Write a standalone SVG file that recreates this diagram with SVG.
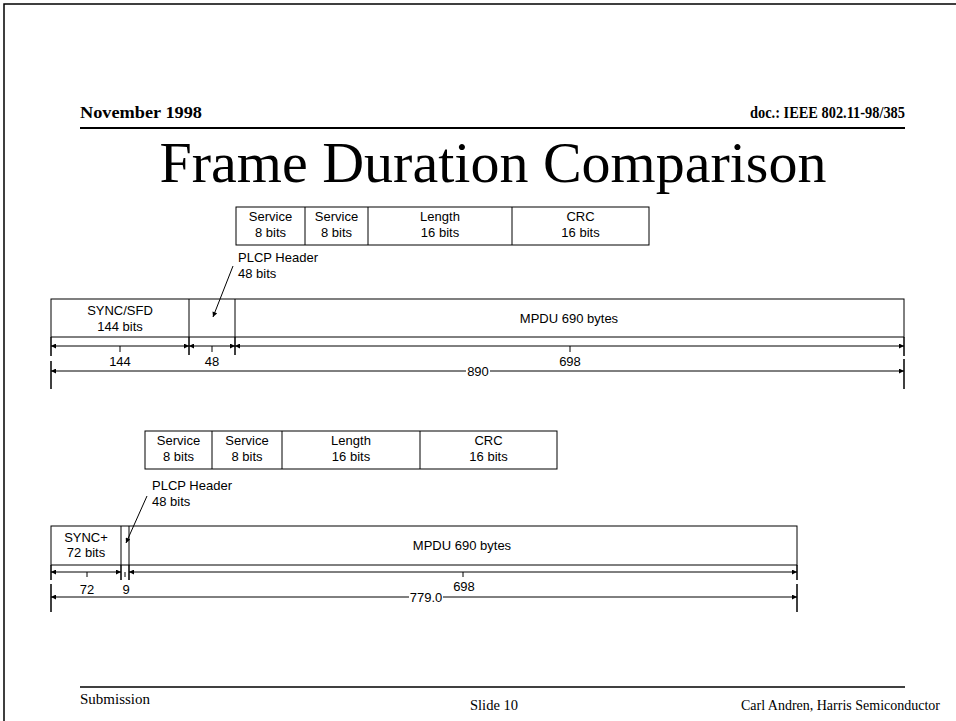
<svg xmlns="http://www.w3.org/2000/svg" width="956" height="721" viewBox="0 0 956 721">
<style>
.hdr{font-family:"Liberation Serif","Times New Roman",serif;font-weight:bold;font-size:16px;fill:#000}
.ttl{font-family:"Liberation Serif","Times New Roman",serif;font-size:58px;fill:#000}
.ftr{font-family:"Liberation Serif","Times New Roman",serif;font-size:14px;fill:#000}
.t{font-family:"Liberation Sans",Arial,sans-serif;font-size:13px;fill:#000}
.box{fill:#fff;stroke:#000;stroke-width:1}
.ln{stroke:#000;stroke-width:1;fill:none}
.ext{stroke:#000;stroke-width:1.5;fill:none}
.dim{stroke:#000;stroke-width:1;fill:none;marker-start:url(#ah);marker-end:url(#ah)}
</style>
<defs>
<marker id="ah" viewBox="0 0 10 10" refX="10" refY="5" markerWidth="6" markerHeight="5" markerUnits="userSpaceOnUse" orient="auto-start-reverse">
<path d="M0,0 L10,5 L0,10 z" fill="#000"/>
</marker>
<marker id="ap" viewBox="0 0 10 10" refX="10" refY="5" markerWidth="7" markerHeight="5" markerUnits="userSpaceOnUse" orient="auto">
<path d="M0,0 L10,5 L0,10 z" fill="#000"/>
</marker>
</defs>
<rect x="0" y="0" width="956" height="721" fill="#fff"/>
<g id="border">
<path d="M4,721 V4 H956" class="ext" stroke-width="2"/>
</g>
<g id="header">
<text class="hdr" x="80" y="118" textLength="122" lengthAdjust="spacingAndGlyphs">November 1998</text>
<text class="hdr" x="750" y="118" textLength="155" lengthAdjust="spacingAndGlyphs">doc.: IEEE 802.11-98/385</text>
<line x1="80" y1="128" x2="905" y2="128" stroke="#000" stroke-width="2"/>
</g>
<g id="title">
<text class="ttl" x="493" y="182" text-anchor="middle">Frame Duration Comparison</text>
</g>

<!-- Diagram 1 -->
<g id="fields1">
<rect class="box" x="236" y="207" width="413" height="38"/>
<line class="ln" x1="305" y1="207" x2="305" y2="245"/>
<line class="ln" x1="368" y1="207" x2="368" y2="245"/>
<line class="ln" x1="512" y1="207" x2="512" y2="245"/>
<text class="t" text-anchor="middle" x="270.5" y="221">Service</text>
<text class="t" text-anchor="middle" x="270.5" y="237">8 bits</text>
<text class="t" text-anchor="middle" x="336.5" y="221">Service</text>
<text class="t" text-anchor="middle" x="336.5" y="237">8 bits</text>
<text class="t" text-anchor="middle" x="440" y="221">Length</text>
<text class="t" text-anchor="middle" x="440" y="237">16 bits</text>
<text class="t" text-anchor="middle" x="580.5" y="221">CRC</text>
<text class="t" text-anchor="middle" x="580.5" y="237">16 bits</text>
</g>
<g id="plcp1">
<text class="t" x="238" y="262">PLCP Header</text>
<text class="t" x="238" y="278">48 bits</text>
</g>
<g id="frame1">
<rect class="box" x="51" y="299" width="853" height="38"/>
<line class="ln" x1="189" y1="299" x2="189" y2="337"/>
<line class="ln" x1="235" y1="299" x2="235" y2="337"/>
<text class="t" text-anchor="middle" x="120" y="315">SYNC/SFD</text>
<text class="t" text-anchor="middle" x="120" y="331">144 bits</text>
<text class="t" text-anchor="middle" x="569" y="323">MPDU 690 bytes</text>
</g>
<g id="dims1">
<path class="ext" d="M51,337 V356 M51,361 V389 M189,337 V355 M235,337 V355 M904,337 V356 M904,359 V389"/>
<path class="ln" d="M120,346 V352 M212,346 V352 M570,346 V352"/>
<text class="t" text-anchor="middle" x="120" y="366">144</text>
<text class="t" text-anchor="middle" x="212" y="366">48</text>
<text class="t" text-anchor="middle" x="570" y="366">698</text>
<text class="t" text-anchor="middle" x="478" y="376">890</text>
</g>

<!-- Diagram 2 -->
<g id="fields2">
<rect class="box" x="145" y="431" width="412" height="38"/>
<line class="ln" x1="212" y1="431" x2="212" y2="469"/>
<line class="ln" x1="282" y1="431" x2="282" y2="469"/>
<line class="ln" x1="420" y1="431" x2="420" y2="469"/>
<text class="t" text-anchor="middle" x="178.5" y="445">Service</text>
<text class="t" text-anchor="middle" x="178.5" y="461">8 bits</text>
<text class="t" text-anchor="middle" x="247" y="445">Service</text>
<text class="t" text-anchor="middle" x="247" y="461">8 bits</text>
<text class="t" text-anchor="middle" x="351" y="445">Length</text>
<text class="t" text-anchor="middle" x="351" y="461">16 bits</text>
<text class="t" text-anchor="middle" x="488.5" y="445">CRC</text>
<text class="t" text-anchor="middle" x="488.5" y="461">16 bits</text>
</g>
<g id="plcp2">
<text class="t" x="152" y="490">PLCP Header</text>
<text class="t" x="152" y="506">48 bits</text>
</g>
<g id="frame2">
<rect class="box" x="51" y="526" width="746" height="39"/>
<line class="ln" x1="121" y1="526" x2="121" y2="565"/>
<line class="ln" x1="129" y1="526" x2="129" y2="565"/>
<text class="t" text-anchor="middle" x="86" y="542">SYNC+</text>
<text class="t" text-anchor="middle" x="86" y="557">72 bits</text>
<text class="t" text-anchor="middle" x="462" y="550">MPDU 690 bytes</text>
</g>
<g id="dims2">
<path class="ext" d="M51,565 V580 M51,584 V612 M121,565 V580 M129,565 V580 M797,565 V580 M797,584 V612"/>
<path class="ln" d="M87,572 V577 M125,572 V577 M463,572 V577"/>
<text class="t" text-anchor="middle" x="87" y="594">72</text>
<text class="t" text-anchor="middle" x="126" y="594">9</text>
<text class="t" text-anchor="middle" x="464" y="591">698</text>
<text class="t" text-anchor="middle" x="426" y="602">779.0</text>
</g>

<g id="connectors">
<line class="dim" x1="51" y1="346" x2="189" y2="346"/>
<line class="dim" x1="189" y1="346" x2="235" y2="346"/>
<line class="dim" x1="235" y1="346" x2="904" y2="346"/>
<path class="ln" d="M51,371 H466" marker-start="url(#ah)"/>
<path class="ln" d="M490,371 H904" marker-end="url(#ah)"/>
<line class="ln" x1="233" y1="266" x2="213" y2="317" marker-end="url(#ap)"/>
<line class="dim" x1="51" y1="572" x2="121" y2="572"/>
<line class="dim" x1="129" y1="572" x2="797" y2="572"/>
<path class="ln" d="M51,597 H409" marker-start="url(#ah)"/>
<path class="ln" d="M443,597 H797" marker-end="url(#ah)"/>
<line class="ln" x1="147" y1="496" x2="126" y2="543" marker-end="url(#ap)"/>
</g>

<g id="footer">
<line x1="80" y1="687" x2="905" y2="687" stroke="#000" stroke-width="1.5"/>
<text class="ftr" x="80" y="704" textLength="70" lengthAdjust="spacingAndGlyphs">Submission</text>
<text class="ftr" x="470" y="710" textLength="48" lengthAdjust="spacingAndGlyphs">Slide 10</text>
<text class="ftr" x="940" y="710" font-size="12.5" text-anchor="end">Carl Andren, Harris Semiconductor</text>
</g>
</svg>
